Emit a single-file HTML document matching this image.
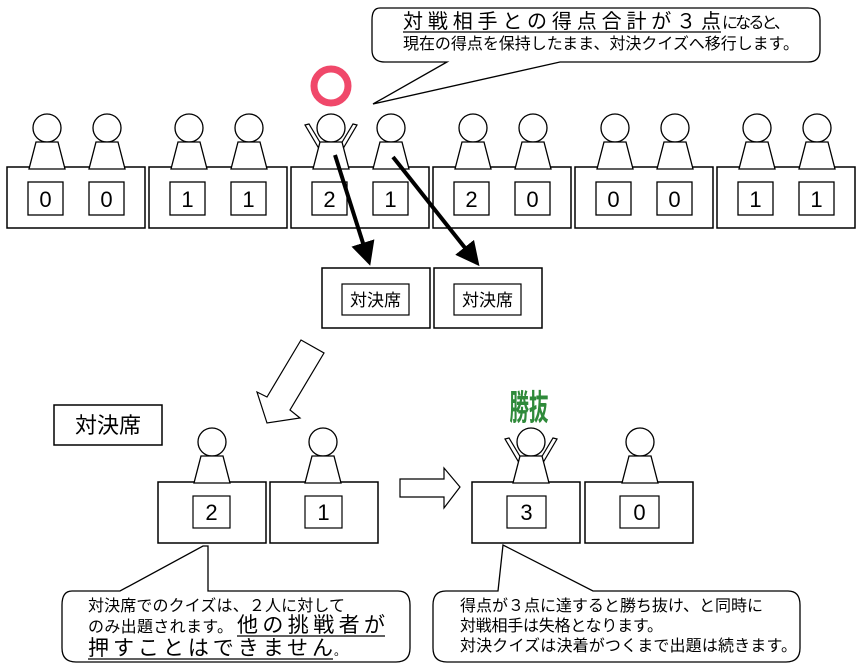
<!DOCTYPE html>
<html><head><meta charset="utf-8"><style>
html,body{margin:0;padding:0;background:#fff;}
svg{display:block;font-family:"Liberation Sans","Noto Sans CJK JP",sans-serif;}
</style></head><body>
<svg width="862" height="669" viewBox="0 0 862 669" xmlns="http://www.w3.org/2000/svg">
<defs>
<g id="p"><circle cx="0" cy="0" r="14" fill="#fff" stroke="#000" stroke-width="1.3"/><path d="M-11,14 L11,14 L18,41 L-18,41 Z" fill="#fff" stroke="#000" stroke-width="1.3"/></g>
<g id="pw"><path d="M-26,-3 L-22,-4 L-10,16 L-13,19 Z M26,-3 L22,-4 L10,16 L13,19 Z" fill="#fff" stroke="#000" stroke-width="1.2"/><use href="#p"/></g>
<marker id="ah" markerWidth="6" markerHeight="6" refX="5" refY="3" orient="auto" markerUnits="strokeWidth"><path d="M0,0 L6,3 L0,6 Z" fill="#000"/></marker>
</defs>
<path d="M380,8 Q372,8 372,20 L372,50 Q372,62 385,62 L447,62 L373,104 L560,62 L808,62 Q820,62 820,50 L820,20 Q820,8 808,8 Z" fill="#fff" stroke="#000" stroke-width="1.3"/>
<text x="403" y="28" font-size="20" textLength="318" lengthAdjust="spacing">対戦相手との得点合計が３点</text>
<line x1="403" y1="32" x2="721" y2="32" stroke="#000" stroke-width="1.2"/>
<text x="722" y="28" font-size="16" textLength="68" lengthAdjust="spacing">になると、</text>
<text x="403" y="49" font-size="16" textLength="396" lengthAdjust="spacing">現在の得点を保持したまま、対決クイズへ移行します。</text>
<circle cx="331" cy="86" r="17" fill="none" stroke="#f0486a" stroke-width="7"/>
<g stroke="#000" stroke-width="1.5" fill="#fff">
<rect x="7" y="167" width="138" height="61"/><rect x="149" y="167" width="138" height="61"/>
<rect x="291" y="167" width="138" height="61"/><rect x="433" y="167" width="138" height="61"/>
<rect x="575" y="167" width="138" height="61"/><rect x="717" y="167" width="138" height="61"/>
</g>
<g stroke="#000" stroke-width="1.3" fill="#fff">
<rect x="28" y="182" width="35" height="33"/><rect x="89" y="182" width="35" height="33"/>
<rect x="170" y="182" width="35" height="33"/><rect x="231" y="182" width="35" height="33"/>
<rect x="312" y="182" width="35" height="33"/><rect x="373" y="182" width="35" height="33"/>
<rect x="454" y="182" width="35" height="33"/><rect x="515" y="182" width="35" height="33"/>
<rect x="596" y="182" width="35" height="33"/><rect x="657" y="182" width="35" height="33"/>
<rect x="738" y="182" width="35" height="33"/><rect x="799" y="182" width="35" height="33"/>
</g>
<g font-size="22" text-anchor="middle">
<text x="45.5" y="207">0</text><text x="106.5" y="207">0</text>
<text x="187.5" y="207">1</text><text x="248.5" y="207">1</text>
<text x="329.5" y="207">2</text><text x="390.5" y="207">1</text>
<text x="471.5" y="207">2</text><text x="532.5" y="207">0</text>
<text x="613.5" y="207">0</text><text x="674.5" y="207">0</text>
<text x="755.5" y="207">1</text><text x="816.5" y="207">1</text>
</g>
<use href="#p" x="47" y="128"/><use href="#p" x="107" y="128"/>
<use href="#p" x="189" y="128"/><use href="#p" x="249" y="128"/>
<use href="#pw" x="331" y="128"/><use href="#p" x="391" y="128"/>
<use href="#p" x="473" y="128"/><use href="#p" x="533" y="128"/>
<use href="#p" x="615" y="128"/><use href="#p" x="675" y="128"/>
<use href="#p" x="757" y="128"/><use href="#p" x="817" y="128"/>
<line x1="335" y1="155" x2="369" y2="262" stroke="#000" stroke-width="4" marker-end="url(#ah)"/>
<line x1="393" y1="157" x2="477" y2="263" stroke="#000" stroke-width="4" marker-end="url(#ah)"/>
<g stroke="#000" stroke-width="1.5" fill="#fff">
<rect x="322" y="268" width="108" height="60"/><rect x="434" y="268" width="108" height="60"/>
<rect x="342" y="284" width="67" height="31" stroke-width="1.2"/><rect x="454" y="284" width="67" height="31" stroke-width="1.2"/>
</g>
<text x="375.5" y="306" font-size="17" text-anchor="middle">対決席</text>
<text x="487.5" y="306" font-size="17" text-anchor="middle">対決席</text>
<path d="M301,340 L324,353 L290,410 L300,418 L267,423 L257,392 L267,397 Z" fill="#fff" stroke="#000" stroke-width="1.2"/>
<rect x="54" y="405" width="108" height="40" fill="#fff" stroke="#000" stroke-width="1.5"/>
<text x="108" y="433" font-size="22" text-anchor="middle">対決席</text>
<text x="529" y="420" font-size="26" font-weight="bold" fill="#2f8a3a" text-anchor="middle" transform="translate(529,420) scale(0.75,1.35) translate(-529,-420)">勝抜</text>
<g stroke="#000" stroke-width="1.5" fill="#fff">
<rect x="158" y="482" width="108" height="61"/><rect x="270" y="482" width="108" height="61"/>
<rect x="472" y="482" width="108" height="61"/><rect x="585" y="482" width="108" height="61"/>
<rect x="193" y="496" width="37" height="32" stroke-width="1.2"/><rect x="305" y="496" width="37" height="32" stroke-width="1.2"/>
<rect x="507" y="496" width="39" height="32" stroke-width="1.2"/><rect x="620" y="496" width="39" height="32" stroke-width="1.2"/>
</g>
<g font-size="22" text-anchor="middle">
<text x="211.5" y="520">2</text><text x="323.5" y="520">1</text><text x="526.5" y="520">3</text><text x="639.5" y="520">0</text>
</g>
<use href="#p" x="212" y="442"/><use href="#p" x="323" y="442"/>
<use href="#pw" x="531" y="442"/><use href="#p" x="640" y="442"/>
<path d="M400,479 L444,479 L444,468 L460,487 L444,508 L444,497 L400,497 Z" fill="#fff" stroke="#000" stroke-width="1.2"/>
<path d="M72,591 L120,591 L203,546 L208,546 L208,591 L398,591 Q410,591 410,605 L410,648 Q410,662 396,662 L76,662 Q62,662 62,648 L62,605 Q62,591 72,591 Z" fill="#fff" stroke="#000" stroke-width="1.3"/>
<text x="88" y="611" font-size="16" textLength="257" lengthAdjust="spacing">対決席でのクイズは、２人に対して</text>
<text x="88" y="632" font-size="16" textLength="145" lengthAdjust="spacing">のみ出題されます。</text>
<text x="237" y="632" font-size="21" textLength="148" lengthAdjust="spacing">他の挑戦者が</text>
<line x1="237" y1="636" x2="385" y2="636" stroke="#000" stroke-width="1.2"/>
<text x="88" y="655" font-size="21" textLength="245" lengthAdjust="spacing">押すことはできません</text>
<line x1="88" y1="659" x2="333" y2="659" stroke="#000" stroke-width="1.2"/>
<text x="334" y="655" font-size="12">。</text>
<path d="M446,591 L498,591 L503,545 L593,591 L788,591 Q800,591 800,605 L800,648 Q800,662 786,662 L447,662 Q433,662 433,648 L433,605 Q433,591 446,591 Z" fill="#fff" stroke="#000" stroke-width="1.3"/>
<text x="460" y="611" font-size="16" textLength="303" lengthAdjust="spacing">得点が３点に達すると勝ち抜け、と同時に</text>
<text x="460" y="631" font-size="16" textLength="203" lengthAdjust="spacing">対戦相手は失格となります。</text>
<text x="460" y="651" font-size="16" textLength="337" lengthAdjust="spacing">対決クイズは決着がつくまで出題は続きます。</text>
</svg>
</body></html>
